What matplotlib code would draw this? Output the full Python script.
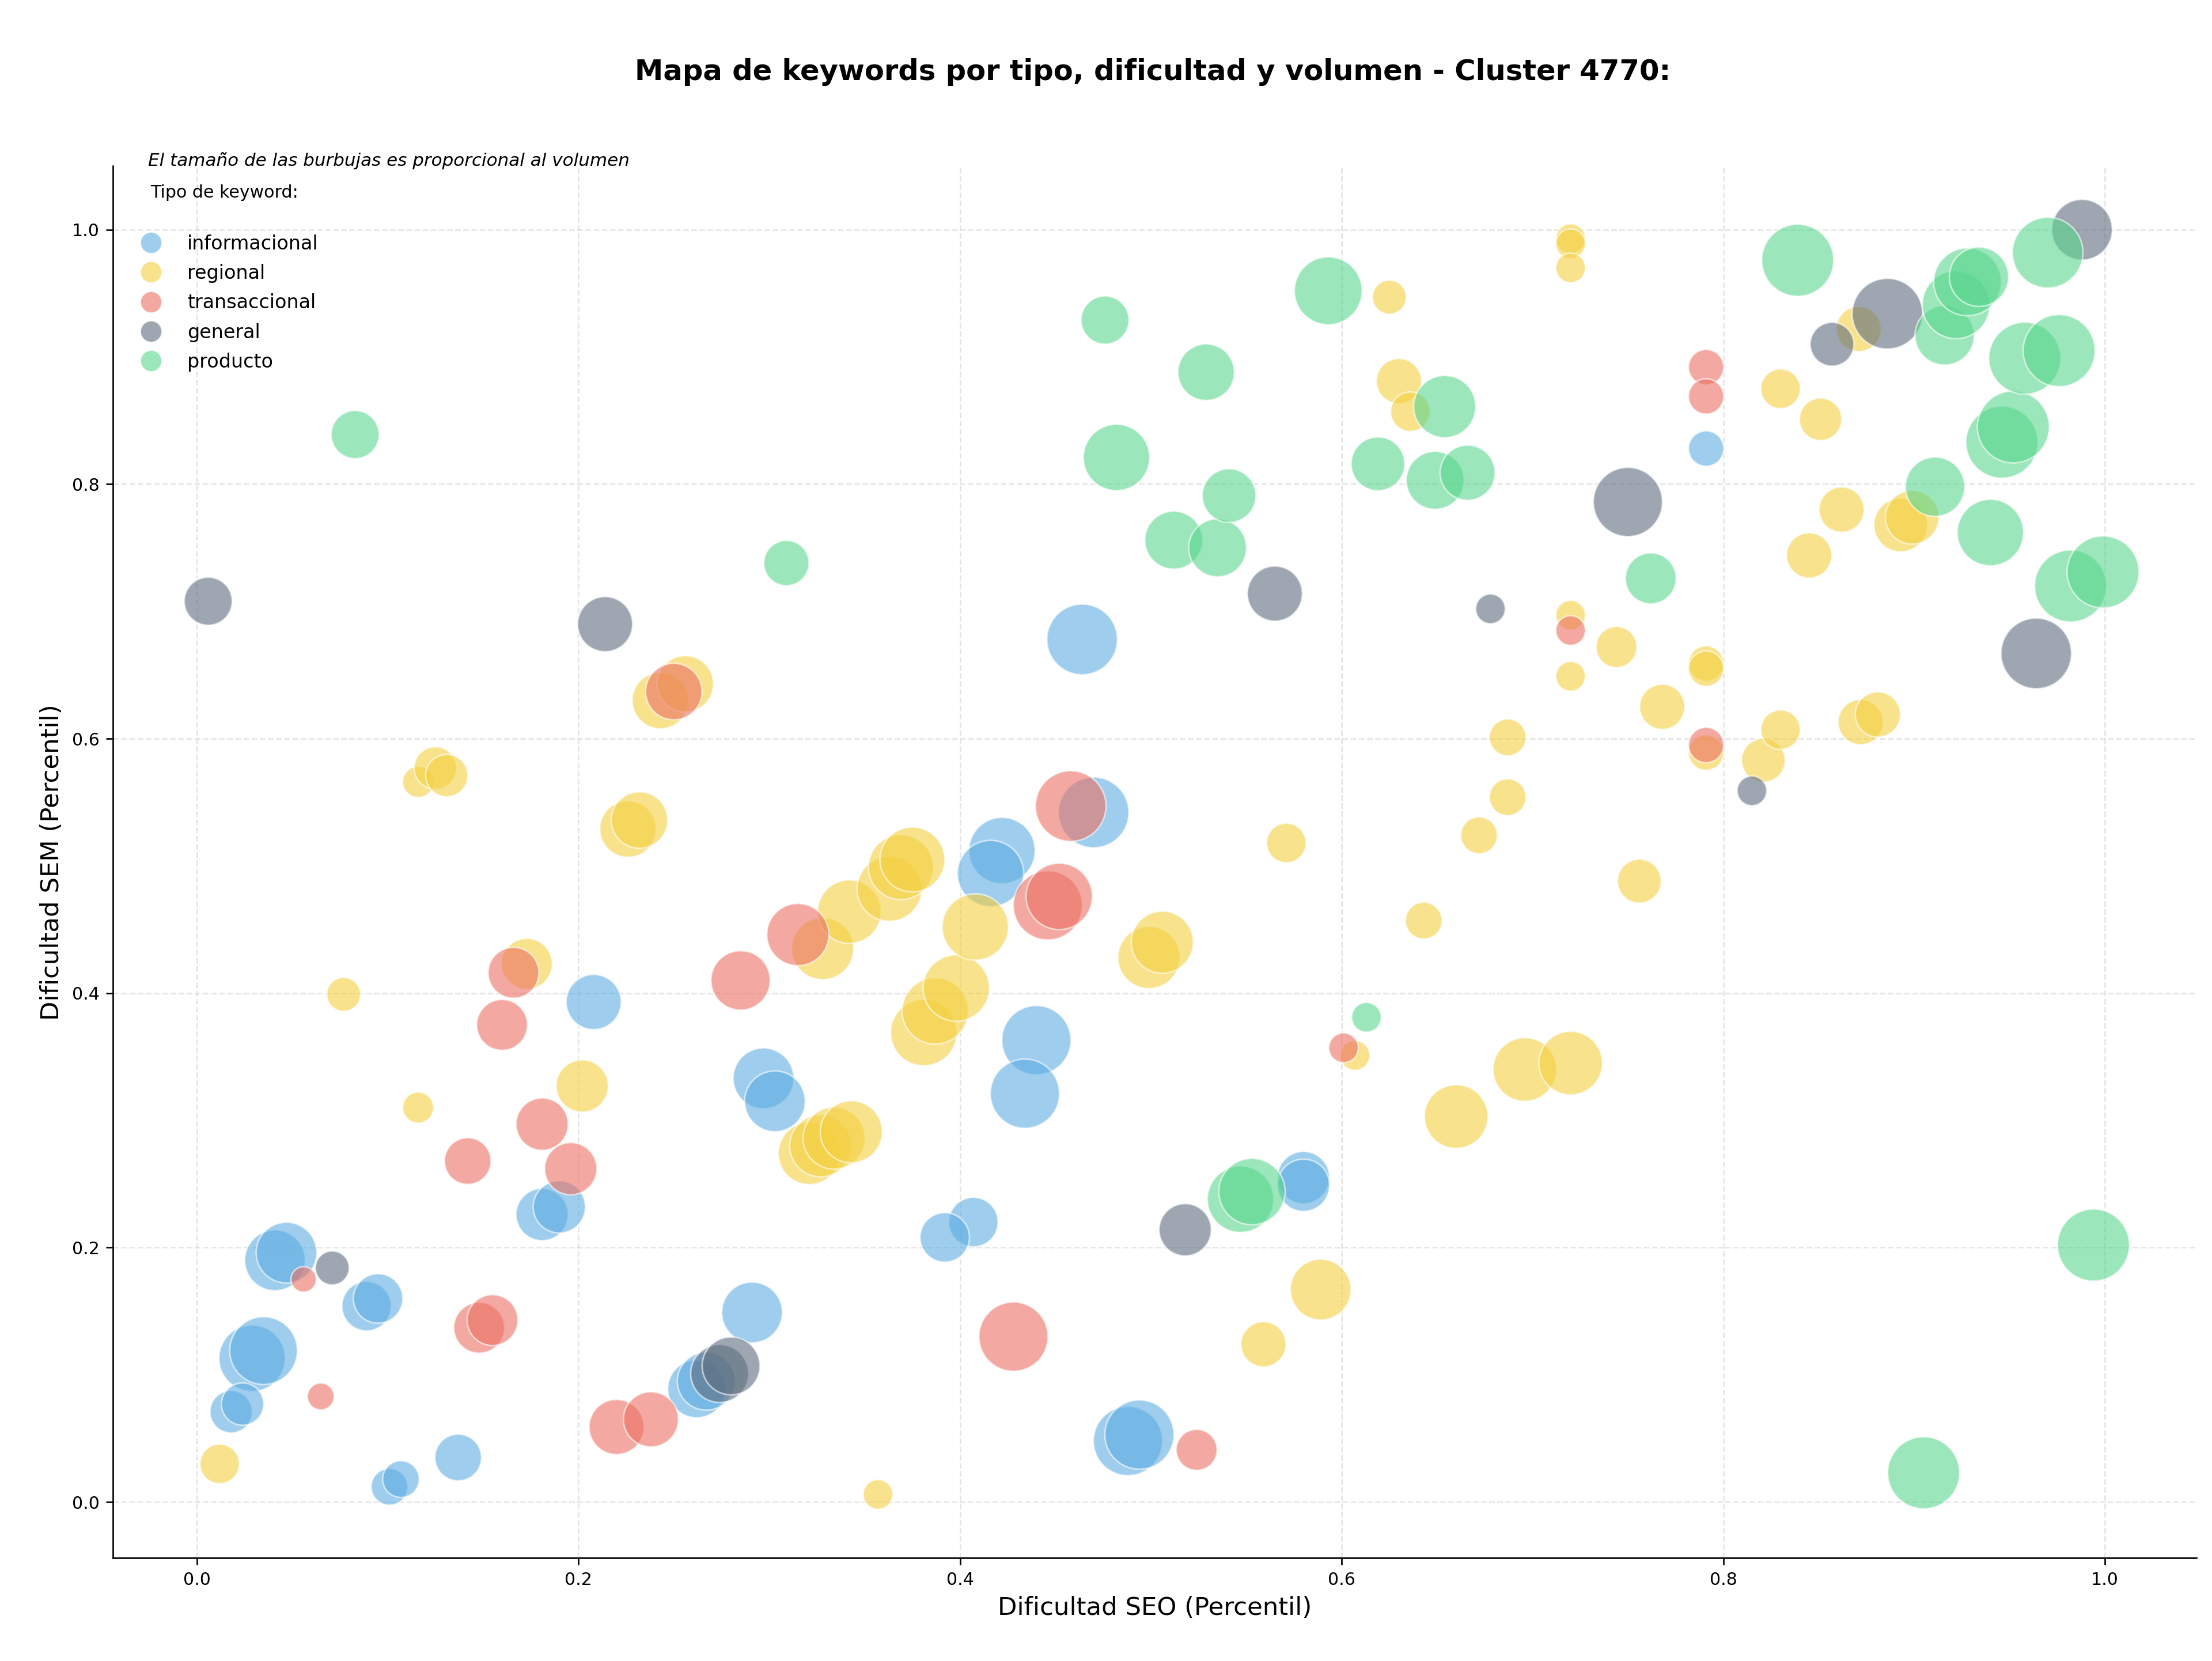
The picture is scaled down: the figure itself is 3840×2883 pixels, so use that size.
import matplotlib
matplotlib.use("Agg")
import matplotlib.pyplot as plt
from matplotlib.lines import Line2D

# --- datos: (dificultad SEO, dificultad SEM, volumen) por tipo ---
tipos = ["informacional", "regional", "transaccional", "general", "producto"]

info_seo = [0.464, 0.791, 0.422, 0.416, 0.470, 0.208, 0.181, 0.190, 0.297, 0.303,
            0.041, 0.047, 0.089, 0.095, 0.029, 0.035, 0.018, 0.024, 0.101, 0.107,
            0.137, 0.291, 0.262, 0.267, 0.440, 0.434, 0.407, 0.392, 0.580, 0.580,
            0.488, 0.494]
info_sem = [0.678, 0.828, 0.512, 0.494, 0.542, 0.393, 0.226, 0.232, 0.333, 0.315,
            0.190, 0.196, 0.154, 0.160, 0.113, 0.119, 0.071, 0.077, 0.012, 0.018,
            0.035, 0.149, 0.089, 0.095, 0.363, 0.321, 0.220, 0.208, 0.255, 0.249,
            0.048, 0.053]
info_vol = [1350, 338, 1193, 1193, 1350, 821, 739, 739, 998, 998,
            998, 998, 662, 662, 1193, 1244, 486, 486, 365, 365,
            588, 998, 908, 908, 1297, 1297, 662, 662, 739, 739,
            1297, 1297]

reg_seo = [0.012, 0.077, 0.116, 0.116, 0.125, 0.131, 0.173, 0.202, 0.226, 0.232,
           0.243, 0.256, 0.321, 0.327, 0.334, 0.343, 0.328, 0.342, 0.363, 0.369,
           0.375, 0.381, 0.387, 0.398, 0.408, 0.357, 0.499, 0.506, 0.559, 0.589,
           0.571, 0.607, 0.643, 0.660, 0.672, 0.687, 0.687, 0.696, 0.720, 0.756,
           0.768, 0.744, 0.720, 0.720, 0.791, 0.791, 0.791, 0.821, 0.830, 0.872,
           0.881, 0.845, 0.862, 0.893, 0.899, 0.830, 0.851, 0.871, 0.720, 0.720,
           0.720, 0.625, 0.630, 0.636]
reg_sem = [0.030, 0.399, 0.310, 0.566, 0.577, 0.571, 0.423, 0.327, 0.529, 0.536,
           0.630, 0.643, 0.274, 0.280, 0.286, 0.291, 0.435, 0.464, 0.482, 0.499,
           0.505, 0.369, 0.386, 0.404, 0.452, 0.006, 0.428, 0.440, 0.124, 0.167,
           0.518, 0.351, 0.457, 0.303, 0.524, 0.554, 0.601, 0.340, 0.345, 0.488,
           0.625, 0.672, 0.697, 0.649, 0.659, 0.655, 0.589, 0.583, 0.607, 0.613,
           0.619, 0.744, 0.780, 0.768, 0.774, 0.875, 0.851, 0.922, 0.993, 0.989,
           0.970, 0.947, 0.881, 0.857]
reg_vol = [423, 311, 261, 261, 486, 486, 700, 739, 864, 864,
           864, 864, 1045, 1045, 1045, 1045, 1045, 1094, 1143, 1143,
           1143, 1193, 1193, 1193, 1193, 238, 1045, 1045, 553, 998,
           423, 238, 365, 1094, 365, 365, 365, 1094, 1094, 519,
           553, 454, 238, 238, 338, 338, 338, 519, 423, 553,
           553, 553, 553, 780, 780, 423, 486, 553, 238, 238,
           238, 311, 553, 423]

tra_seo = [0.056, 0.065, 0.142, 0.148, 0.155, 0.160, 0.166, 0.181, 0.196, 0.220,
           0.238, 0.250, 0.285, 0.315, 0.428, 0.446, 0.452, 0.458, 0.524, 0.601,
           0.720, 0.791, 0.791, 0.791]
tra_sem = [0.175, 0.083, 0.268, 0.137, 0.143, 0.375, 0.416, 0.297, 0.262, 0.059,
           0.065, 0.637, 0.410, 0.446, 0.130, 0.469, 0.476, 0.547, 0.041, 0.357,
           0.685, 0.595, 0.892, 0.869]
tra_vol = [175, 195, 588, 700, 700, 700, 700, 739, 739, 821,
           821, 864, 953, 1045, 1297, 1297, 1193, 1350, 454, 238,
           238, 338, 338, 338]

gen_seo = [0.006, 0.071, 0.214, 0.274, 0.280, 0.518, 0.565, 0.678, 0.750, 0.815,
           0.857, 0.886, 0.964, 0.988]
gen_sem = [0.708, 0.184, 0.690, 0.101, 0.107, 0.214, 0.714, 0.702, 0.786, 0.559,
           0.910, 0.934, 0.667, 1.000]
gen_vol = [624, 311, 821, 908, 908, 739, 821, 238, 1297, 238,
           519, 1350, 1350, 998]

pro_seo = [0.083, 0.309, 0.476, 0.482, 0.512, 0.529, 0.535, 0.541, 0.547, 0.553,
           0.593, 0.613, 0.619, 0.649, 0.654, 0.666, 0.762, 0.839, 0.905, 0.911,
           0.916, 0.922, 0.928, 0.934, 0.940, 0.946, 0.952, 0.958, 0.970, 0.976,
           0.982, 0.994, 0.999]
pro_sem = [0.839, 0.738, 0.929, 0.821, 0.756, 0.888, 0.750, 0.791, 0.238, 0.244,
           0.952, 0.381, 0.816, 0.803, 0.861, 0.809, 0.726, 0.976, 0.023, 0.798,
           0.917, 0.941, 0.959, 0.963, 0.762, 0.833, 0.845, 0.899, 0.982, 0.905,
           0.720, 0.202, 0.731]
pro_vol = [624, 553, 624, 1193, 908, 864, 908, 780, 1193, 1193,
           1244, 238, 780, 908, 1045, 821, 700, 1405, 1405, 953,
           953, 1244, 1244, 953, 1193, 1405, 1405, 1405, 1350, 1405,
           1405, 1405, 1405]

series = {
    "informacional": (info_seo, info_sem, info_vol),
    "regional": (reg_seo, reg_sem, reg_vol),
    "transaccional": (tra_seo, tra_sem, tra_vol),
    "general": (gen_seo, gen_sem, gen_vol),
    "producto": (pro_seo, pro_sem, pro_vol),
}

COLORES = {
    "informacional": "#5DADE2",
    "regional": "#F4D03F",
    "transaccional": "#EC7063",
    "general": "#5D6D7E",
    "producto": "#58D68D",
}
ALPHA = 0.6
SIZE_SCALE = 1.0  # volumen -> area del marcador (pt^2)

fig = plt.figure(figsize=(16, 12.0125), dpi=240)
ax = fig.add_axes([0.051, 0.062, 0.942, 0.838])

for tipo in tipos:
    xs, ys, vols = series[tipo]
    ax.scatter(xs, ys, s=[v * SIZE_SCALE for v in vols], color=COLORES[tipo],
               alpha=ALPHA, edgecolors="white", linewidths=0.8, zorder=3)

ax.set_xlim(-0.044, 1.048)
ax.set_ylim(-0.044, 1.050)
ax.set_xticks([0.0, 0.2, 0.4, 0.6, 0.8, 1.0])
ax.set_yticks([0.0, 0.2, 0.4, 0.6, 0.8, 1.0])
ax.tick_params(labelsize=9)
ax.grid(True, linestyle="--", color="#cccccc", alpha=0.5, linewidth=0.8)
ax.set_axisbelow(True)
ax.spines["top"].set_visible(False)
ax.spines["right"].set_visible(False)

ax.set_xlabel("Dificultad SEO (Percentil)", fontsize=13)
ax.set_ylabel("Dificultad SEM (Percentil)", fontsize=13)
fig.suptitle("Mapa de keywords por tipo, dificultad y volumen - Cluster 4770:",
             fontsize=14.9, fontweight="bold", x=0.521, y=0.965)

ax.text(0.017, 1.004, "El tamaño de las burbujas es proporcional al volumen",
        transform=ax.transAxes, fontsize=9.3, style="italic", va="center", ha="left")
ax.text(0.018, 0.981, "Tipo de keyword:", transform=ax.transAxes,
        fontsize=9, va="center", ha="left")

handles = [Line2D([0], [0], marker="o", linestyle="none", markersize=11,
                  markerfacecolor=COLORES[t], markeredgecolor="white",
                  markeredgewidth=0.5, alpha=ALPHA, label=t) for t in tipos]
ax.legend(handles=handles, loc="upper left", bbox_to_anchor=(0.009, 0.951),
          frameon=False, fontsize=10, labelspacing=0.55, handletextpad=0.9,
          borderaxespad=0, borderpad=0)

fig.savefig("out.png", dpi=240)
